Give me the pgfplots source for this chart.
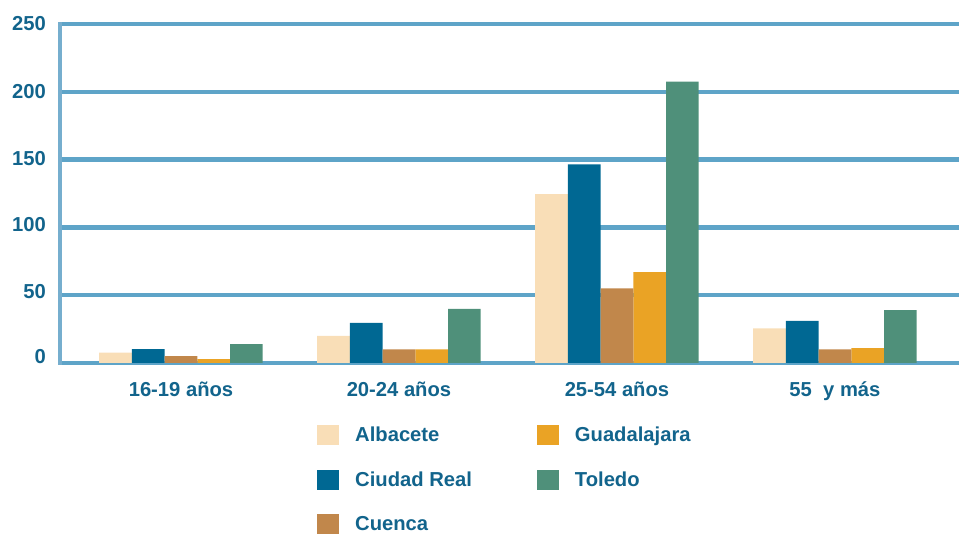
\documentclass[border=0pt]{standalone}
\usepackage{pgfplots}
\pgfplotsset{compat=1.18}
\usepackage{fontspec}
\setmainfont{Liberation Sans}
\definecolor{cA}{RGB}{249,222,183}
\definecolor{cCR}{RGB}{0,104,147}
\definecolor{cCu}{RGB}{193,135,75}
\definecolor{cG}{RGB}{234,163,37}
\definecolor{cT}{RGB}{79,144,122}
\definecolor{gridc}{RGB}{94,164,200}
\definecolor{leftc}{RGB}{118,174,206}
\definecolor{txt}{RGB}{18,100,140}
\newcommand{\lblfont}{\fontsize{20.2}{24}\selectfont\bfseries}
\begin{document}
\begin{tikzpicture}
\useasboundingbox (-60pt,-171pt) rectangle (899pt,363pt);
\begin{axis}[
  at={(0pt,0pt)}, anchor=south west,
  scale only axis, width=899pt, height=339pt,
  xmin=-0.555, xmax=3.569, ymin=0, ymax=250,
  clip=false,
  ybar, bar width=0.15,
  axis x line=bottom, axis y line=left,
  x axis line style={-, draw=gridc, line width=4.5pt},
  y axis line style={-, draw=leftc, line width=4pt, line cap=rect},
  ymajorgrids, grid style={draw=gridc, line width=4.5pt},
  major tick length=0pt,
  xtick style={draw=none}, ytick style={draw=none},
  xtick={0,1,2,3},
  xticklabels={16-19 años,20-24 años,25-54 años,55~~y más},
  ytick={0,50,100,150,200,250},
  yticklabels={\raisebox{6pt}{0},\raisebox{3.5pt}{50},\raisebox{3pt}{100},\raisebox{1.5pt}{150},200,250},
  xticklabel style={anchor=base, yshift=-34pt, inner sep=0pt, font=\lblfont, text=txt},
  yticklabel style={anchor=base east, yshift=-7pt, xshift=-14pt, inner sep=0pt, font=\lblfont, text=txt},
  legend columns=2,
  legend cell align=left,
  legend image code/.code={\fill[#1,draw=none] (0pt,-10pt) rectangle (22pt,10pt);},
  legend style={at={(axis description cs:0.2859,-0.1829)}, anchor=north west,
    draw=none, fill=none, inner sep=0pt, font=\lblfont, text=txt,
    cells={text height=14.5pt, text depth=0pt, inner sep=0pt},
    row sep=24.5pt,
    /tikz/every odd column/.append style={column sep=14pt},
    /tikz/every even column/.append style={column sep=63pt}},
]
\addplot[fill=cA, draw=none, bar shift=-0.3] coordinates {(0,7.6) (1,20) (2,124.5) (3,25.5)};
\addplot[fill=cG, draw=none, bar shift=0.15] coordinates {(0,2.9) (1,10) (2,67) (3,11)};
\addplot[fill=cCR, draw=none, bar shift=-0.15] coordinates {(0,10.3) (1,29.5) (2,146.5) (3,31)};
\addplot[fill=cT, draw=none, bar shift=0.3] coordinates {(0,14) (1,40) (2,207.5) (3,39)};
\addplot[fill=cCu, draw=none, bar shift=0] coordinates {(0,5.1) (1,10) (2,55) (3,10)};
\legend{Albacete,Guadalajara,Ciudad Real,Toledo,Cuenca}
\end{axis}
\end{tikzpicture}
\end{document}
